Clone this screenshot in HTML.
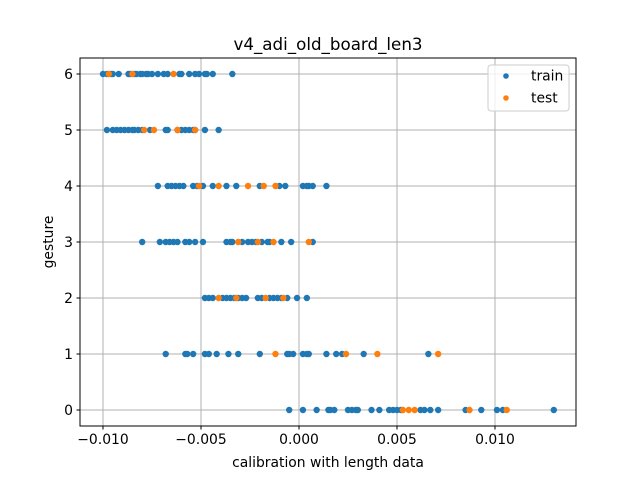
<!DOCTYPE html>
<html><head><meta charset="utf-8"><style>body{margin:0;background:#fff}svg{display:block;font-family:"DejaVu Sans","Liberation Sans",sans-serif}</style></head>
<body>
<svg id="chart" width="640" height="480" xmlns="http://www.w3.org/2000/svg">
<rect width="640" height="480" fill="#fff"/>
<g id="grid"></g>
<g id="pts"></g>
<rect x="80" y="58" width="496" height="368" fill="none" stroke="#000" stroke-width="1"/>
<g id="ticks"></g>
<text x="328" y="50" text-anchor="middle" font-size="16.7">v4_adi_old_board_len3</text>
<text x="328" y="467" text-anchor="middle" font-size="13.9">calibration with length data</text>
<text x="0" y="0" transform="translate(53,242) rotate(-90)" text-anchor="middle" font-size="13.9">gesture</text>
<g>
<rect x="488" y="65" width="81" height="46" rx="3" fill="#fff" fill-opacity="0.8" stroke="#ccc"/>
<g><circle cx="506" cy="76" r="2.8" fill="#1f77b4"/><text x="531" y="80.5" font-size="13.9">train</text></g>
<g><circle cx="506" cy="98" r="2.8" fill="#ff7f0e"/><text x="531" y="102.5" font-size="13.9">test</text></g>
</g>
</svg>
<script>
const trainX = [
[-0.0005,0.0002,0.0009,0.0015,0.0016,0.0018,0.0025,0.0027,0.0029,0.0030,0.0037,0.0041,0.0046,0.0048,0.0050,0.0052,0.0062,0.0064,0.0067,0.0071,0.0085,0.0093,0.0101,0.0104,0.0130],
[-0.0068,-0.0058,-0.0057,-0.0054,-0.0048,-0.0046,-0.0042,-0.0036,-0.0031,-0.0020,-0.0006,-0.0005,-0.0003,0.0002,0.0004,0.0005,0.0014,0.0019,0.0022,0.0033,0.0066],
[-0.0048,-0.0046,-0.0044,-0.0039,-0.0037,-0.0035,-0.0033,-0.0031,-0.0029,-0.0027,-0.0021,-0.0019,-0.0015,-0.0013,-0.0011,-0.0009,-0.0006,-0.0001,0.0004],
[-0.0080,-0.0071,-0.0068,-0.0066,-0.0064,-0.0062,-0.0058,-0.0056,-0.0053,-0.0049,-0.0037,-0.0035,-0.0034,-0.0029,-0.0026,-0.0024,-0.0022,-0.0019,-0.0016,-0.0015,-0.0009,-0.0004,0.0007],
[-0.0072,-0.0067,-0.0065,-0.0063,-0.0061,-0.0059,-0.0054,-0.0052,-0.0049,-0.0044,-0.0037,-0.0032,-0.0020,-0.0010,-0.0007,0.0002,0.0004,0.0005,0.0007,0.0014],
[-0.0098,-0.0095,-0.0093,-0.0091,-0.0089,-0.0087,-0.0085,-0.0084,-0.0082,-0.0080,-0.0076,-0.0068,-0.0067,-0.0062,-0.0060,-0.0058,-0.0056,-0.0054,-0.0053,-0.0048,-0.0041],
[-0.0100,-0.0098,-0.0096,-0.0095,-0.0092,-0.0087,-0.0086,-0.0084,-0.0083,-0.0081,-0.0080,-0.0078,-0.0077,-0.0075,-0.0072,-0.0069,-0.0067,-0.0061,-0.0060,-0.0056,-0.0053,-0.0051,-0.0048,-0.0047,-0.0044,-0.0034]
];
const testX = [
[0.0053,0.0056,0.0059,0.0087,0.0106],
[-0.0012,0.0024,0.0040,0.0071],
[-0.0041,-0.0032,-0.0017,-0.0008],
[-0.0031,-0.0021,-0.0013,0.0005],
[-0.0051,-0.0041,-0.0026,-0.0018,-0.0012],
[-0.0079,-0.0074,-0.0062,-0.0053],
[-0.0097,-0.0085,-0.0064]
];
const xTicks = [-0.010,-0.005,0.000,0.005,0.010];
const xTickLabels = ["\u22120.010","\u22120.005","0.000","0.005","0.010"];
const yTicks = [0,1,2,3,4,5,6];

const NS = "http://www.w3.org/2000/svg";
const xs = v => 299 + v * 19600;
const ys = v => 410 - v * 56;
function mk(tag, attrs, parent){const e=document.createElementNS(NS,tag);for(const k in attrs)e.setAttribute(k,attrs[k]);parent.appendChild(e);return e;}
const grid=document.getElementById('grid'), ticks=document.getElementById('ticks'), pts=document.getElementById('pts');
xTicks.forEach((t,i)=>{
  const l=mk('line',{x1:xs(t),x2:xs(t),y1:58,y2:426,stroke:'#b0b0b0','stroke-width':1},grid);
  
  
  mk('line',{x1:xs(t),x2:xs(t),y1:426,y2:429.5,stroke:'#000'},ticks);
  const tx=mk('text',{x:xs(t),y:444,'text-anchor':'middle','font-size':13.9},ticks);
  tx.textContent=xTickLabels[i];
  
  
});
yTicks.forEach(t=>{
  const l=mk('line',{x1:80,x2:576,y1:ys(t),y2:ys(t),stroke:'#b0b0b0','stroke-width':1},grid);
  
  
  mk('line',{x1:76.5,x2:80,y1:ys(t),y2:ys(t),stroke:'#000'},ticks);
  const tx=mk('text',{x:73,y:ys(t)+5,'text-anchor':'end','font-size':13.9},ticks);
  tx.textContent=String(t);
  
  
});
trainX.forEach((row,g)=>row.forEach(v=>{
  const c=mk('circle',{cx:xs(v),cy:ys(g),r:3.2,fill:'#1f77b4'},pts);
  
  
}));
testX.forEach((row,g)=>row.forEach(v=>{
  const c=mk('circle',{cx:xs(v),cy:ys(g),r:3.2,fill:'#ff7f0e'},pts);
  
  
}));
</script>
</body></html>
